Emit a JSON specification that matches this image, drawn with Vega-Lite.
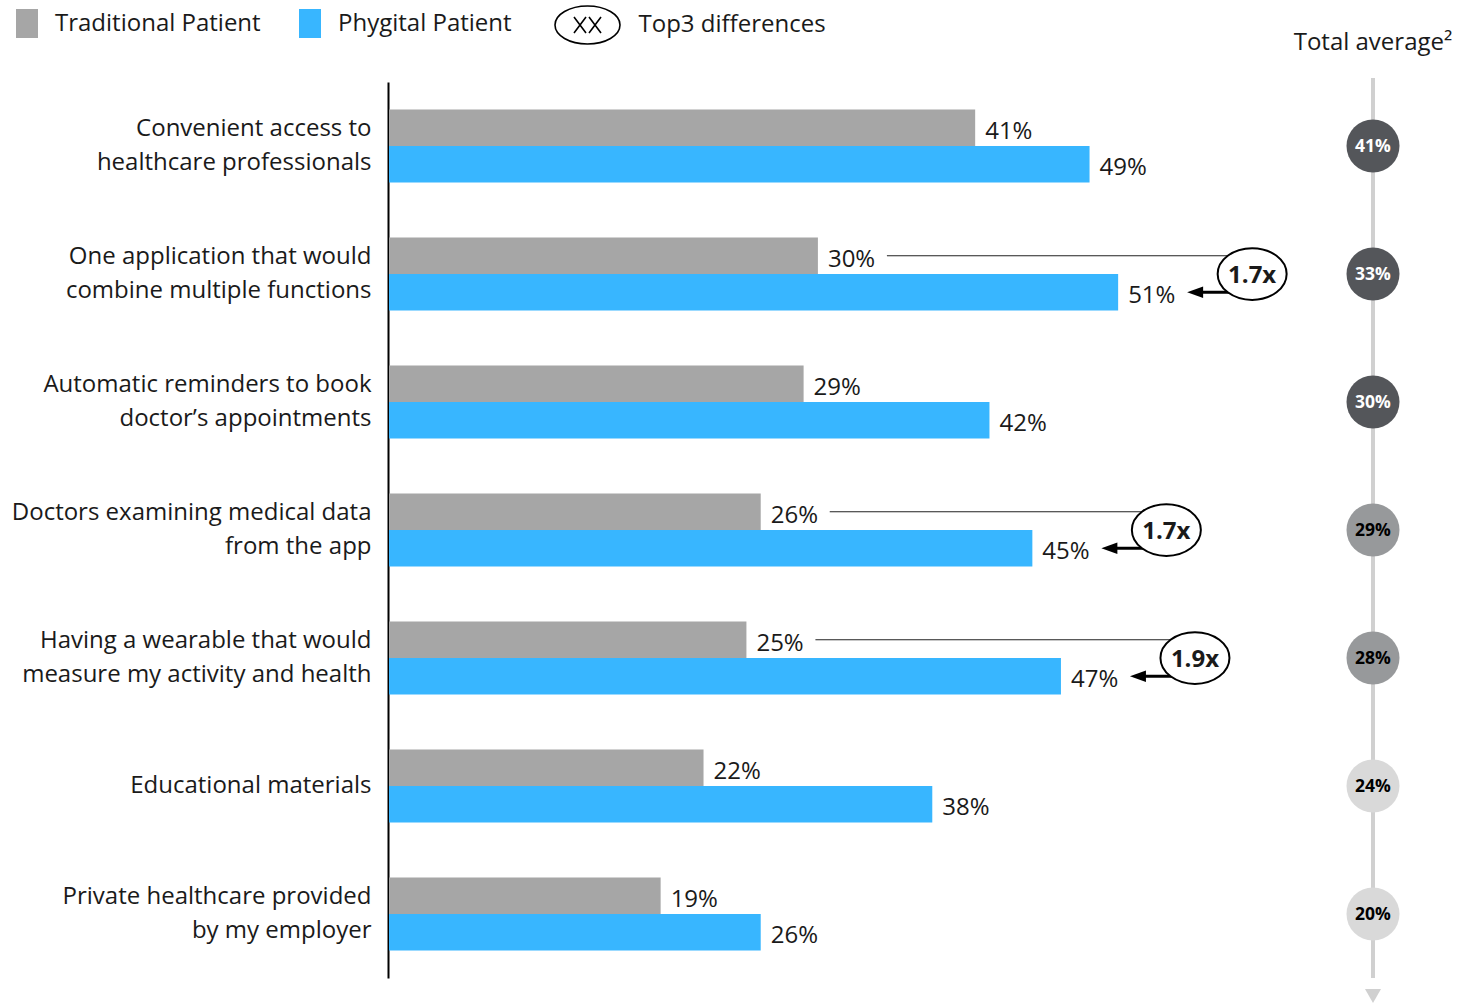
{
  "$schema": "https://vega.github.io/schema/vega-lite/v6.json",
  "background": "white",
  "padding": {"left": 11, "top": 4, "right": 0, "bottom": 0},
  "spacing": 19,
  "bounds": "flush",
  "config": {"view": {"stroke": null}, "font": "Open Sans", "legend": {"padding": 0}},
  "datasets": {
    "bars": [
      {"category": "Convenient access to|healthcare professionals", "series": "Traditional Patient", "value": 0.41},
      {"category": "Convenient access to|healthcare professionals", "series": "Phygital Patient", "value": 0.49},
      {"category": "One application that would|combine multiple functions", "series": "Traditional Patient", "value": 0.30},
      {"category": "One application that would|combine multiple functions", "series": "Phygital Patient", "value": 0.51},
      {"category": "Automatic reminders to book|doctor’s appointments", "series": "Traditional Patient", "value": 0.29},
      {"category": "Automatic reminders to book|doctor’s appointments", "series": "Phygital Patient", "value": 0.42},
      {"category": "Doctors examining medical data|from the app", "series": "Traditional Patient", "value": 0.26},
      {"category": "Doctors examining medical data|from the app", "series": "Phygital Patient", "value": 0.45},
      {"category": "Having a wearable that would|measure my activity and health", "series": "Traditional Patient", "value": 0.25},
      {"category": "Having a wearable that would|measure my activity and health", "series": "Phygital Patient", "value": 0.47},
      {"category": "Educational materials", "series": "Traditional Patient", "value": 0.22},
      {"category": "Educational materials", "series": "Phygital Patient", "value": 0.38},
      {"category": "Private healthcare provided|by my employer", "series": "Traditional Patient", "value": 0.19},
      {"category": "Private healthcare provided|by my employer", "series": "Phygital Patient", "value": 0.26}
    ],
    "diffs": [
      {"category": "One application that would|combine multiple functions", "trad": 0.30, "phy": 0.51, "multiple": "1.7x"},
      {"category": "Doctors examining medical data|from the app", "trad": 0.26, "phy": 0.45, "multiple": "1.7x"},
      {"category": "Having a wearable that would|measure my activity and health", "trad": 0.25, "phy": 0.47, "multiple": "1.9x"}
    ],
    "totals": [
      {"category": "Convenient access to|healthcare professionals", "total": 0.41},
      {"category": "One application that would|combine multiple functions", "total": 0.33},
      {"category": "Automatic reminders to book|doctor’s appointments", "total": 0.30},
      {"category": "Doctors examining medical data|from the app", "total": 0.29},
      {"category": "Having a wearable that would|measure my activity and health", "total": 0.28},
      {"category": "Educational materials", "total": 0.24},
      {"category": "Private healthcare provided|by my employer", "total": 0.20}
    ]
  },
  "hconcat": [
    {
      "width": 915,
      "height": 896,
      "layer": [
        {
          "data": {"name": "bars"},
          "mark": {"type": "bar"},
          "encoding": {
            "y": {
              "field": "category", "type": "nominal",
              "scale": {
                "domain": [
                  "Convenient access to|healthcare professionals",
                  "One application that would|combine multiple functions",
                  "Automatic reminders to book|doctor’s appointments",
                  "Doctors examining medical data|from the app",
                  "Having a wearable that would|measure my activity and health",
                  "Educational materials",
                  "Private healthcare provided|by my employer"
                ],
                "paddingInner": 0.43, "paddingOuter": 0.215
              },
              "axis": {
                "title": null, "domain": true, "domainColor": "black", "domainWidth": 2,
                "ticks": false, "grid": false, "offset": 1,
                "labelFontSize": 24, "labelFont": "Open Sans", "labelColor": "#1A1A1A",
                "labelPadding": 17, "labelLimit": 600, "labelAlign": "right", "labelBaseline": "middle",
                "labelLineHeight": 34, "labelExpr": "split(datum.label, '|')",
                "labelOffset": {"condition": {"test": "indexof(datum.label, '|') >= 0", "value": -17}, "value": 0}
              }
            },
            "yOffset": {
              "field": "series", "type": "nominal",
              "scale": {"domain": ["Traditional Patient", "Phygital Patient"], "paddingInner": 0, "paddingOuter": 0}
            },
            "x": {"field": "value", "type": "quantitative", "scale": {"domain": [0, 0.64], "nice": false}, "axis": null},
            "color": {
              "field": "series", "type": "nominal",
              "scale": {"domain": ["Traditional Patient", "Phygital Patient"], "range": ["#A6A6A6", "#38B6FF"]},
              "legend": {
                "orient": "none", "legendX": -376.5, "legendY": -73, "direction": "horizontal", "title": null,
                "symbolType": "M-0.76,-1L0.76,-1L0.76,1L-0.76,1Z", "symbolSize": 841, "symbolStrokeWidth": 0,
                "labelFontSize": 24, "labelFont": "Open Sans", "labelColor": "#1A1A1A", "labelOffset": 13.5,
                "labelLimit": 400, "columnPadding": 34
              }
            }
          }
        },
        {
          "data": {"name": "bars"},
          "mark": {"type": "text", "align": "left", "baseline": "middle", "dx": 10, "dy": 4, "fontSize": 24, "font": "Open Sans", "color": "#1A1A1A"},
          "encoding": {
            "y": {"field": "category", "type": "nominal"},
            "yOffset": {"field": "series", "type": "nominal"},
            "x": {"field": "value", "type": "quantitative", "axis": null},
            "text": {"field": "value", "type": "quantitative", "format": ".0%"}
          }
        },
        {
          "data": {"name": "diffs"},
          "mark": {"type": "rule", "color": "#222222", "strokeWidth": 1.2, "xOffset": 69, "x2Offset": 134},
          "encoding": {
            "y": {"field": "category", "type": "nominal"},
            "yOffset": {"datum": "Traditional Patient", "type": "nominal"},
            "x": {"field": "trad", "type": "quantitative", "axis": null},
            "x2": {"field": "phy"}
          }
        },
        {
          "data": {"name": "diffs"},
          "mark": {"type": "rule", "color": "black", "strokeWidth": 3, "xOffset": 76, "x2Offset": 134},
          "encoding": {
            "y": {"field": "category", "type": "nominal"},
            "yOffset": {"datum": "Phygital Patient", "type": "nominal"},
            "x": {"field": "phy", "type": "quantitative", "axis": null},
            "x2": {"field": "phy"}
          }
        },
        {
          "data": {"name": "diffs"},
          "mark": {"type": "point", "shape": "M-1,0L1,-0.72L1,0.72Z", "size": 256, "filled": true, "color": "black", "opacity": 1, "xOffset": 77},
          "encoding": {
            "y": {"field": "category", "type": "nominal"},
            "yOffset": {"datum": "Phygital Patient", "type": "nominal"},
            "x": {"field": "phy", "type": "quantitative", "axis": null}
          }
        },
        {
          "data": {"name": "diffs"},
          "mark": {
            "type": "point",
            "shape": "M-1,0C-1,-0.4142,-0.5523,-0.75,0,-0.75C0.5523,-0.75,1,-0.4142,1,0C1,0.4142,0.5523,0.75,0,0.75C-0.5523,0.75,-1,0.4142,-1,0Z",
            "size": 4761, "fill": "white", "strokeWidth": 2, "opacity": 1, "xOffset": 134
          },
          "encoding": {
            "y": {"field": "category", "type": "nominal"},
            "x": {"field": "phy", "type": "quantitative", "axis": null},
            "stroke": {
              "datum": "Top3 differences", "type": "nominal",
              "scale": {"range": ["black"]},
              "legend": {
                "orient": "none", "legendX": 177.5, "legendY": -78, "title": null,
                "symbolType": "M-1.625,0C-1.625,-0.5247,-0.8975,-0.95,0,-0.95C0.8975,-0.95,1.625,-0.5247,1.625,0C1.625,0.5247,0.8975,0.95,0,0.95C-0.8975,0.95,-1.625,0.5247,-1.625,0Z M-0.675,-0.4L-0.075,0.4M-0.075,-0.4L-0.675,0.4M0.075,-0.4L0.675,0.4M0.675,-0.4L0.075,0.4",
                "symbolSize": 1600, "symbolStrokeWidth": 1.6, "symbolFillColor": "white", "symbolStrokeColor": "black",
                "labelFontSize": 24, "labelFont": "Open Sans", "labelColor": "#1A1A1A", "labelOffset": 30, "labelLimit": 400
              }
            }
          }
        },
        {
          "data": {"name": "diffs"},
          "mark": {"type": "text", "align": "center", "baseline": "middle", "dy": 2, "xOffset": 134, "fontSize": 24, "fontWeight": "bold", "font": "Open Sans", "color": "#1A1A1A"},
          "encoding": {
            "y": {"field": "category", "type": "nominal"},
            "x": {"field": "phy", "type": "quantitative", "axis": null},
            "text": {"field": "multiple", "type": "nominal"}
          }
        }
      ]
    },
    {
      "width": 100,
      "height": 896,
      "title": {"text": "Total average²", "fontSize": 24, "font": "Open Sans", "fontWeight": "normal", "color": "#1A1A1A", "anchor": "middle", "baseline": "alphabetic", "offset": 2},
      "layer": [
        {
          "data": {"values": [{"k": 0}]},
          "mark": {"type": "rule", "color": "#D0D0D0", "strokeWidth": 4, "y": 0, "y2": "height", "yOffset": -4, "y2Offset": 12},
          "encoding": {"x": {"datum": 0, "type": "quantitative", "scale": {"domain": [-1, 1]}, "axis": null}}
        },
        {
          "data": {"values": [{"k": 0}]},
          "mark": {"type": "point", "shape": "triangle-down", "size": 256, "filled": true, "color": "#D0D0D0", "opacity": 1, "y": "height", "yOffset": 18},
          "encoding": {"x": {"datum": 0, "type": "quantitative", "axis": null}}
        },
        {
          "data": {"name": "totals"},
          "mark": {"type": "point", "shape": "circle", "size": 2809, "filled": true, "opacity": 1, "strokeWidth": 0},
          "encoding": {
            "y": {
              "field": "category", "type": "nominal", "axis": null,
              "scale": {
                "domain": [
                  "Convenient access to|healthcare professionals",
                  "One application that would|combine multiple functions",
                  "Automatic reminders to book|doctor’s appointments",
                  "Doctors examining medical data|from the app",
                  "Having a wearable that would|measure my activity and health",
                  "Educational materials",
                  "Private healthcare provided|by my employer"
                ],
                "paddingInner": 0.43, "paddingOuter": 0.215
              }
            },
            "color": {
              "condition": [
                {"test": "datum.total >= 0.295", "value": "#54565A"},
                {"test": "datum.total >= 0.25", "value": "#97999B"}
              ],
              "value": "#D9D9D9"
            }
          }
        },
        {
          "data": {"name": "totals"},
          "mark": {"type": "text", "align": "center", "baseline": "middle", "dy": 1, "fontSize": 17.5, "fontWeight": "bold", "font": "Open Sans"},
          "encoding": {
            "y": {"field": "category", "type": "nominal", "axis": null},
            "text": {"field": "total", "type": "quantitative", "format": ".0%"},
            "color": {"condition": {"test": "datum.total >= 0.295", "value": "white"}, "value": "black"}
          }
        }
      ]
    }
  ]
}
